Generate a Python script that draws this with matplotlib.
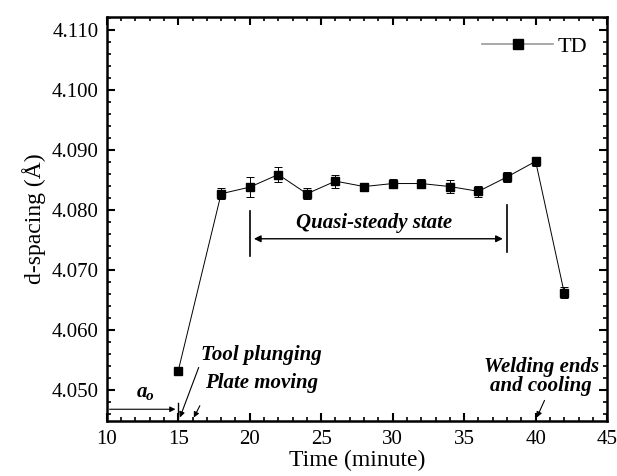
import numpy as np
import matplotlib
matplotlib.use("Agg")
import matplotlib.pyplot as plt
from matplotlib.lines import Line2D
from matplotlib.ticker import MultipleLocator, FormatStrFormatter

plt.rcParams['font.family'] = ['Liberation Serif', 'DejaVu Serif']

# data
time = [15, 18, 20, 22, 24, 26, 28, 30, 32, 34, 36, 38, 40, 42]
d_spacing = [4.0532, 4.0827, 4.0838, 4.0859, 4.0827, 4.0848, 4.0839, 4.0844,
             4.0844, 4.0839, 4.0831, 4.0855, 4.0881, 4.0662]
d_err = [0.0, 0.0009, 0.0017, 0.0012, 0.0009, 0.0011, 0.0005, 0.0007,
         0.0007, 0.0011, 0.0009, 0.0009, 0.0008, 0.0009]

fig = plt.figure(figsize=(6.17, 4.76), dpi=100)
ax = fig.add_axes([0.173, 0.115, 0.811, 0.85])

ax.errorbar(time, d_spacing, yerr=d_err, fmt='-s', color='black', lw=0.7,
            ms=6, elinewidth=0.7, capsize=3, capthick=0.7)

ax.set_xlim(10, 45)
ax.set_ylim(4.0448, 4.1122)
ax.xaxis.set_major_locator(MultipleLocator(5))
ax.xaxis.set_minor_locator(MultipleLocator(1))
ax.yaxis.set_major_locator(MultipleLocator(0.01))
ax.yaxis.set_minor_locator(MultipleLocator(0.002))
ax.yaxis.set_major_formatter(FormatStrFormatter('%.3f'))
ax.tick_params(which='both', direction='in', top=True, right=True, labelsize=15)
ax.tick_params(which='major', length=6, width=1.5, pad=6)
ax.tick_params(which='minor', length=3, width=1.2)
for s in ax.spines.values():
    s.set_linewidth(1.8)

ax.set_xlabel('Time (minute)', fontsize=17, labelpad=1)
ax.set_ylabel('d-spacing (Å)', fontsize=17, labelpad=4)

handle = Line2D([], [], color='#999999', lw=1.2, marker='s', ms=7,
                mfc='black', mec='black')
ax.legend([handle], ['TD'], loc='upper right', frameon=False, fontsize=16,
          handlelength=3.2, handletextpad=0.2, borderaxespad=0.5)

# quasi-steady state
ax.plot([20, 20], [4.0723, 4.0798], color='black', lw=1.2)
ax.plot([38, 38], [4.0730, 4.0808], color='black', lw=1.2)
ax.annotate('', xy=(20.1, 4.0752), xytext=(37.9, 4.0752),
            arrowprops=dict(arrowstyle='<|-|>', color='black', lw=1.0,
                            mutation_scale=10))
ax.text(28.7, 4.0778, 'Quasi-steady state', ha='center', va='center',
        fontsize=15, fontweight='bold', style='italic')

bi = dict(fontsize=15, fontweight='bold', style='italic')
arr = dict(arrowstyle='-|>', color='black', lw=0.8, mutation_scale=8)

# a_o
ax.annotate('', xy=(15, 4.0468), xytext=(10, 4.0468), arrowprops=arr)
ax.plot([15, 15], [4.0453, 4.0478], color='black', lw=1.0)
ax.text(12.45, 4.0497, 'a', ha='center', va='center', **bi)
ax.text(12.75, 4.0489, 'o', ha='left', va='center', fontsize=11,
        fontweight='bold', style='italic')

ax.annotate('', xy=(15.05, 4.0450), xytext=(16.5, 4.0542), arrowprops=arr)
ax.text(16.6, 4.0558, 'Tool plunging', ha='left', va='center', **bi)

ax.annotate('', xy=(16.0, 4.0450), xytext=(16.6, 4.0478), arrowprops=arr)
ax.text(16.9, 4.0511, 'Plate moving', ha='left', va='center', **bi)

ax.annotate('', xy=(40.0, 4.0450), xytext=(40.7, 4.0487), arrowprops=arr)
ax.text(40.4, 4.0523, 'Welding ends\nand cooling', ha='center', va='center',
        linespacing=0.95, **bi)

fig.savefig('out.png', dpi=100)
